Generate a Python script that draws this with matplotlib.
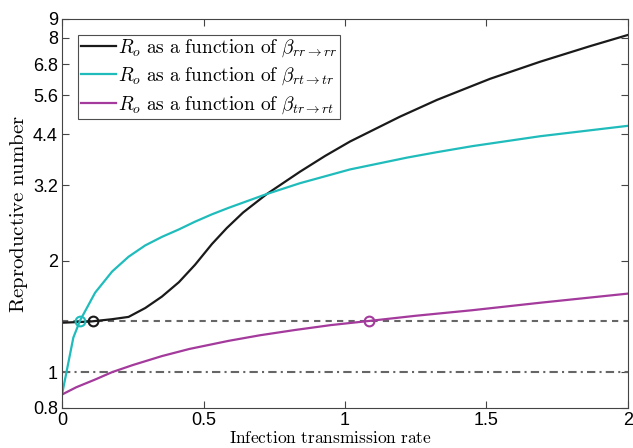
import numpy as np
import matplotlib
matplotlib.use("Agg")
import matplotlib.pyplot as plt

# data
beta_rr = [0, 0.1, 0.177, 0.235, 0.294, 0.353, 0.413, 0.47, 0.53, 0.582, 0.64, 0.724,
           0.841, 0.93, 1.018, 1.194, 1.325, 1.512, 1.69, 1.866, 2.0]
R_rr = [1.36, 1.37, 1.39, 1.41, 1.49, 1.60, 1.75, 1.95, 2.22, 2.45, 2.70, 3.03,
        3.48, 3.84, 4.20, 4.90, 5.44, 6.20, 6.90, 7.60, 8.15]

beta_rt = [0, 0.04, 0.064, 0.117, 0.177, 0.235, 0.294, 0.353, 0.413, 0.47, 0.53, 0.589,
           0.724, 0.841, 1.018, 1.22, 1.325, 1.45, 1.69, 2.0]
R_rt = [0.87, 1.24, 1.38, 1.64, 1.87, 2.05, 2.20, 2.32, 2.43, 2.55, 2.67, 2.78,
        3.03, 3.24, 3.53, 3.80, 3.93, 4.08, 4.34, 4.63]

beta_tr = [0, 0.05, 0.117, 0.177, 0.25, 0.353, 0.45, 0.589, 0.7, 0.824, 0.95, 1.085,
           1.25, 1.45, 1.69, 2.0]
R_tr = [0.87, 0.91, 0.955, 1.0, 1.045, 1.105, 1.155, 1.215, 1.258, 1.30, 1.34, 1.375,
        1.42, 1.47, 1.54, 1.63]

threshold = 1.375
crossings = [0.11, 0.064, 1.085]

yticks = [0.8, 1, 2, 3.2, 4.4, 5.6, 6.8, 8, 9]
xticks = [0, 0.5, 1, 1.5, 2]

plt.rcParams['mathtext.fontset'] = 'cm'
plt.rcParams['font.family'] = ['Liberation Sans', 'DejaVu Sans']

c_rr = '#1a1a1a'
c_rt = '#20bcbc'
c_tr = '#a33a9c'

fig = plt.figure(figsize=(6.33, 4.48), dpi=100)
ax = fig.add_axes([0.098, 0.0893, 0.894, 0.8683])

ax.axhline(threshold, color='#666666', lw=1.5, ls=(0, (3, 2.5)))
ax.axhline(1, color='#666666', lw=1.5, ls=(0, (4, 2, 1, 2)))

ax.plot(beta_rr, R_rr, color=c_rr, lw=1.6,
        label=r'$R_o\ \mathrm{as\ a\ function\ of}\ \beta_{rr\rightarrow rr}$')
ax.plot(beta_rt, R_rt, color=c_rt, lw=1.6,
        label=r'$R_o\ \mathrm{as\ a\ function\ of}\ \beta_{rt\rightarrow tr}$')
ax.plot(beta_tr, R_tr, color=c_tr, lw=1.6,
        label=r'$R_o\ \mathrm{as\ a\ function\ of}\ \beta_{tr\rightarrow rt}$')

for xc, col in zip(crossings, [c_rr, c_rt, c_tr]):
    ax.plot([xc], [threshold], 'o', mfc='none', mec=col, ms=7, mew=1.5)

ax.set_yscale('log')
ax.set_xlim(0, 2)
ax.set_ylim(0.8, 9)
ax.set_yticks(yticks)
ax.set_yticklabels([str(v) for v in yticks])
ax.minorticks_off()
ax.set_xticks(xticks)
ax.set_xticklabels(['0', '0.5', '1', '1.5', '2'])
ax.tick_params(direction='in', top=True, right=True, labelsize=13, length=5,
               color='#444444', pad=3)
for s in ax.spines.values():
    s.set_color('#444444')
    s.set_linewidth(0.8)

ax.set_xlabel(r'$\mathrm{Infection\ transmission\ rate}$', fontsize=12.5)
ax.xaxis.set_label_coords(0.475, -0.057, transform=ax.transAxes)
ax.xaxis.label.set_va('top')
ax.set_ylabel(r'$\mathrm{Reproductive\ number}$', fontsize=15, labelpad=2)

leg = ax.legend(loc='upper left', fontsize=14, frameon=True, fancybox=False,
                edgecolor='#222222', handlelength=1.8, handletextpad=0.15,
                borderpad=0.15, labelspacing=0.35, borderaxespad=0.8)
leg.get_frame().set_linewidth(0.8)

fig.savefig('out.png', dpi=100)
